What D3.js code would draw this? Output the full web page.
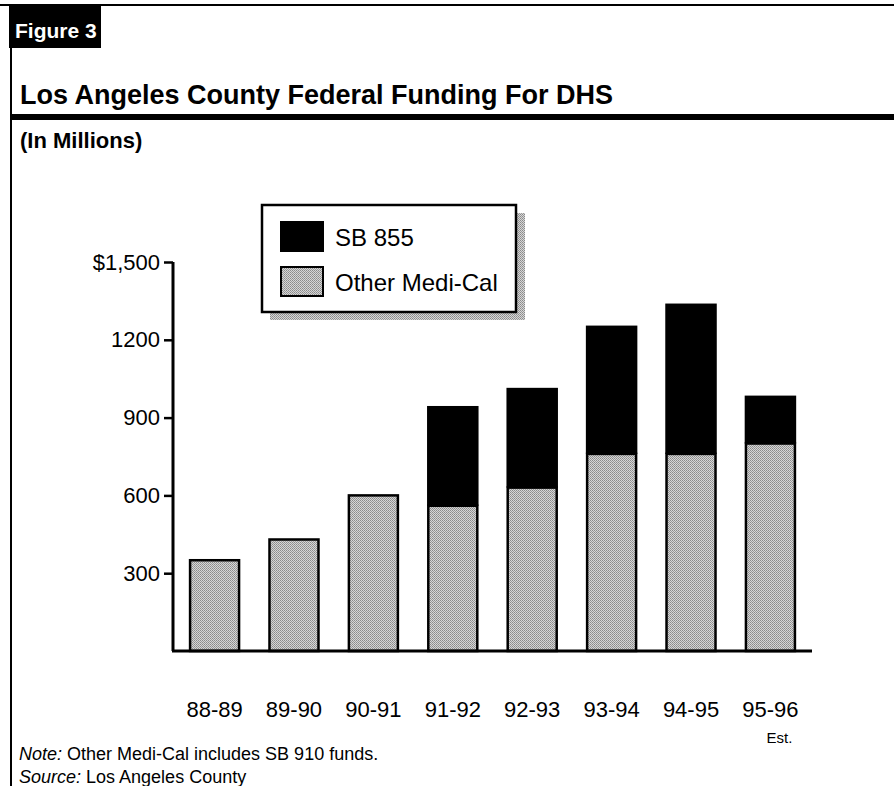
<!DOCTYPE html>
<html>
<head>
<meta charset="utf-8">
<script src="https://cdn.jsdelivr.net/npm/d3@7"></script>
<style>
  html, body { margin: 0; padding: 0; background: #fff; }
  svg { display: block; font-family: "Liberation Sans", Arial, Helvetica, sans-serif; }
</style>
</head>
<body>
<svg id="chart" width="894" height="786"></svg>
<script>
const categories = ["88-89", "89-90", "90-91", "91-92", "92-93", "93-94", "94-95", "95-96"];
const otherMediCal = [350, 430, 600, 560, 630, 760, 760, 800];
const sb855 = [0, 0, 0, 380, 380, 490, 575, 180];
const tickValues = [300, 600, 900, 1200, 1500];
const tickLabels = ["300", "600", "900", "1200", "$1,500"];
const seriesNames = ["SB 855", "Other Medi-Cal"];

const svg = d3.select("#chart");

// halftone-like pattern for gray
const defs = svg.append("defs");
const pat = defs.append("pattern").attr("id", "gray").attr("patternUnits", "userSpaceOnUse")
  .attr("width", 2).attr("height", 2);
pat.append("rect").attr("width", 2).attr("height", 2).attr("fill", "#d6d6d6");
pat.append("rect").attr("width", 1).attr("height", 1).attr("fill", "#8a8a8a");
pat.append("rect").attr("x", 1).attr("y", 1).attr("width", 1).attr("height", 1).attr("fill", "#9a9a9a");

// frame / header
svg.append("line").attr("x1", 0).attr("x2", 894).attr("y1", 5).attr("y2", 5).attr("stroke", "#000").attr("stroke-width", 2);
svg.append("rect").attr("x", 9).attr("y", 5).attr("width", 92).attr("height", 43).attr("fill", "#000");
svg.append("text").attr("x", 15).attr("y", 38).attr("fill", "#fff").attr("font-size", 21).attr("font-weight", "bold").text("Figure 3");
svg.append("line").attr("x1", 11).attr("x2", 11).attr("y1", 48).attr("y2", 786).attr("stroke", "#000").attr("stroke-width", 2);
svg.append("text").attr("x", 20).attr("y", 104).attr("font-size", 27).attr("font-weight", "bold").text("Los Angeles County Federal Funding For DHS");
svg.append("rect").attr("x", 10).attr("y", 114).attr("width", 884).attr("height", 6).attr("fill", "#000");
svg.append("text").attr("x", 20).attr("y", 148).attr("font-size", 22).attr("font-weight", "bold").text("(In Millions)");

// scales
const x = d3.scaleBand().domain(categories).range([173, 812]).paddingInner(0.383).paddingOuter(0.215);
const y = d3.scaleLinear().domain([0, 1500]).range([651, 262]);

// bars
const g = svg.append("g");
categories.forEach((c, i) => {
  const o = otherMediCal[i], s = sb855[i];
  g.append("rect").attr("x", x(c)).attr("width", x.bandwidth())
    .attr("y", y(o)).attr("height", y(0) - y(o))
    .attr("fill", "url(#gray)").attr("stroke", "#000").attr("stroke-width", 2.5);
  if (s > 0) {
    g.append("rect").attr("x", x(c) - 1.25).attr("width", x.bandwidth() + 2.5)
      .attr("y", y(o + s) - 1.25).attr("height", y(o) - y(o + s) + 1.25)
      .attr("fill", "#000");
  }
});

// y axis
const yAxis = d3.axisLeft(y).tickValues(tickValues).tickSize(9).tickSizeOuter(0)
  .tickFormat((d, i) => tickLabels[i]);
const ya = svg.append("g").attr("transform", "translate(173,0)").call(yAxis);
ya.select(".domain").attr("stroke", "#000").attr("stroke-width", 3);
ya.selectAll(".tick line").attr("stroke", "#000").attr("stroke-width", 2.5);
ya.selectAll(".tick text").attr("font-size", 22).attr("fill", "#000").attr("font-family", "Liberation Sans, Arial, sans-serif").attr("dx", "-1");
ya.select(".domain").attr("d", `M0,${y(0)}V${y(1500)}`);

// x axis
const xAxis = d3.axisBottom(x).tickSize(0);
const xa = svg.append("g").attr("transform", `translate(0,${y(0)})`).call(xAxis);
xa.select(".domain").attr("d", `M172,0H812`).attr("stroke", "#000").attr("stroke-width", 3);
xa.selectAll(".tick text").attr("font-size", 22).attr("fill", "#000").attr("dy", 0).attr("y", 66)
  .attr("font-family", "Liberation Sans, Arial, sans-serif");
svg.append("text").attr("x", x("95-96") + x.bandwidth() / 2 + 22).attr("y", 743).attr("text-anchor", "end")
  .attr("font-size", 15).text("Est.");

// legend
const lg = svg.append("g");
lg.append("rect").attr("x", 270).attr("y", 213).attr("width", 255).attr("height", 107).attr("fill", "url(#gray)");
lg.append("rect").attr("x", 262).attr("y", 205).attr("width", 254).attr("height", 107).attr("fill", "#fff").attr("stroke", "#000").attr("stroke-width", 2.5);
const sw = [{fill: "#000"}, {fill: "url(#gray)"}];
seriesNames.forEach((n, i) => {
  const yy = 222 + i * 45;
  lg.append("rect").attr("x", 281).attr("y", yy).attr("width", 42).attr("height", 29)
    .attr("fill", sw[i].fill).attr("stroke", "#000").attr("stroke-width", 2);
  lg.append("text").attr("x", 335).attr("y", yy + 24).attr("font-size", 24).text(n);
});

// notes
const note = svg.append("text").attr("x", 19).attr("y", 760).attr("font-size", 18);
note.append("tspan").attr("font-style", "italic").text("Note:");
note.append("tspan").text(" Other Medi-Cal includes SB 910 funds.");
const src = svg.append("text").attr("x", 19).attr("y", 783).attr("font-size", 18);
src.append("tspan").attr("font-style", "italic").text("Source:");
src.append("tspan").text(" Los Angeles County");
</script>
</body>
</html>
